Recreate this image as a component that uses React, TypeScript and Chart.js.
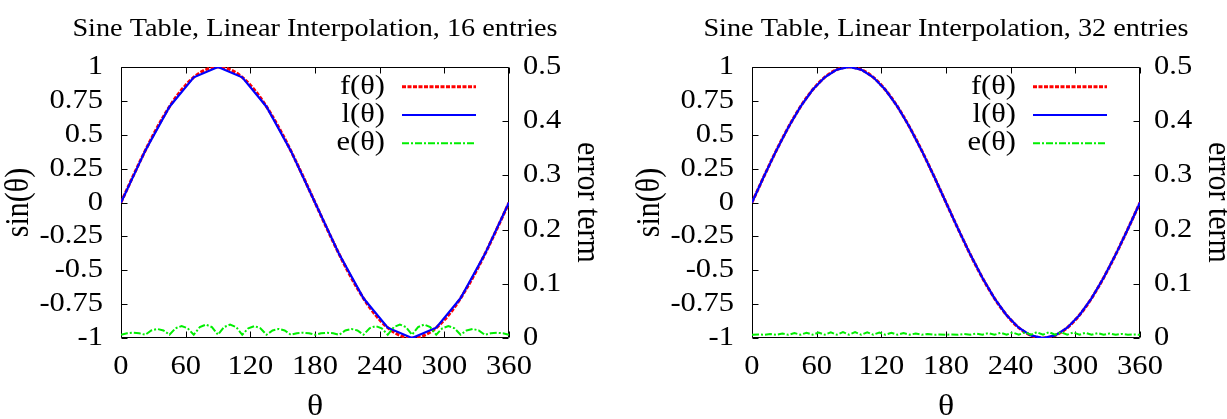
import React, { useEffect, useRef } from 'react';
import { Chart, registerables } from 'chart.js';

Chart.register(...registerables);

const FONT_FAMILY = '"Liberation Serif", "Times New Roman", Times, serif';
const TEXT_STRETCH = 1.13;

// ---- data ----
const thetaF = [0, 10, 20, 30, 40, 50, 60, 70, 80, 90, 100, 110, 120, 130, 140, 150, 160, 170, 180,
  190, 200, 210, 220, 230, 240, 250, 260, 270, 280, 290, 300, 310, 320, 330, 340, 350, 360];
const sinF = [0, 0.1736, 0.342, 0.5, 0.6428, 0.766, 0.866, 0.9397, 0.9848, 1, 0.9848, 0.9397, 0.866,
  0.766, 0.6428, 0.5, 0.342, 0.1736, 0, -0.1736, -0.342, -0.5, -0.6428, -0.766, -0.866, -0.9397,
  -0.9848, -1, -0.9848, -0.9397, -0.866, -0.766, -0.6428, -0.5, -0.342, -0.1736, 0];

const theta16 = [0, 22.5, 45, 67.5, 90, 112.5, 135, 157.5, 180, 202.5, 225, 247.5, 270, 292.5, 315, 337.5, 360];
const lin16 = [0, 0.3827, 0.7071, 0.9239, 1, 0.9239, 0.7071, 0.3827, 0, -0.3827, -0.7071, -0.9239, -1,
  -0.9239, -0.7071, -0.3827, 0];

const theta32 = [0, 11.25, 22.5, 33.75, 45, 56.25, 67.5, 78.75, 90, 101.25, 112.5, 123.75, 135, 146.25,
  157.5, 168.75, 180, 191.25, 202.5, 213.75, 225, 236.25, 247.5, 258.75, 270, 281.25, 292.5, 303.75,
  315, 326.25, 337.5, 348.75, 360];
const lin32 = [0, 0.1951, 0.3827, 0.5556, 0.7071, 0.8315, 0.9239, 0.9808, 1, 0.9808, 0.9239, 0.8315,
  0.7071, 0.5556, 0.3827, 0.1951, 0, -0.1951, -0.3827, -0.5556, -0.7071, -0.8315, -0.9239, -0.9808, -1,
  -0.9808, -0.9239, -0.8315, -0.7071, -0.5556, -0.3827, -0.1951, 0];

const thetaErr = [0, 5.625, 11.25, 16.875, 22.5, 28.125, 33.75, 39.375, 45, 50.625, 56.25, 61.875, 67.5,
  73.125, 78.75, 84.375, 90, 95.625, 101.25, 106.875, 112.5, 118.125, 123.75, 129.375, 135, 140.625,
  146.25, 151.875, 157.5, 163.125, 168.75, 174.375, 180, 185.625, 191.25, 196.875, 202.5, 208.125,
  213.75, 219.375, 225, 230.625, 236.25, 241.875, 247.5, 253.125, 258.75, 264.375, 270, 275.625, 281.25,
  286.875, 292.5, 298.125, 303.75, 309.375, 315, 320.625, 326.25, 331.875, 337.5, 343.125, 348.75,
  354.375, 360];

const err16 = [0.006,
  0.0088, 0.0097, 0.0088, 0.006, 0.014, 0.0167, 0.014, 0.006,
  0.018, 0.022, 0.018, 0.006, 0.0201, 0.0248, 0.0201, 0.006,
  0.0201, 0.0248, 0.0201, 0.006, 0.018, 0.022, 0.018, 0.006,
  0.014, 0.0167, 0.014, 0.006, 0.0088, 0.0097, 0.0088, 0.006,
  0.0088, 0.0097, 0.0088, 0.006, 0.014, 0.0167, 0.014, 0.006,
  0.018, 0.022, 0.018, 0.006, 0.0201, 0.0248, 0.0201, 0.006,
  0.0201, 0.0248, 0.0201, 0.006, 0.018, 0.022, 0.018, 0.006,
  0.014, 0.0167, 0.014, 0.006, 0.0088, 0.0097, 0.0088, 0.006];

const err32 = [0.006,
  0.0065, 0.006, 0.0074, 0.006, 0.0083, 0.006, 0.009, 0.006,
  0.0097, 0.006, 0.0102, 0.006, 0.0106, 0.006, 0.0108, 0.006,
  0.0108, 0.006, 0.0106, 0.006, 0.0102, 0.006, 0.0097, 0.006,
  0.009, 0.006, 0.0083, 0.006, 0.0074, 0.006, 0.0065, 0.006,
  0.0065, 0.006, 0.0074, 0.006, 0.0083, 0.006, 0.009, 0.006,
  0.0097, 0.006, 0.0102, 0.006, 0.0106, 0.006, 0.0108, 0.006,
  0.0108, 0.006, 0.0106, 0.006, 0.0102, 0.006, 0.0097, 0.006,
  0.009, 0.006, 0.0083, 0.006, 0.0074, 0.006, 0.0065, 0.006];

const xTickValues = [0, 60, 120, 180, 240, 300, 360];
const yTickValues = [-1, -0.75, -0.5, -0.25, 0, 0.25, 0.5, 0.75, 1];
const y2TickValues = [0, 0.1, 0.2, 0.3, 0.4, 0.5];
const legendLabels = ['f(θ)', 'l(θ)', 'e(θ)'];
const xTitle = 'θ';
const yTitle = 'sin(θ)';
const y2Title = 'error term';
const panelTitles = ['Sine Table, Linear Interpolation, 16 entries', 'Sine Table, Linear Interpolation, 32 entries'];

const pts = (xs: number[], ys: number[]) => xs.map((x, i) => ({ x, y: ys[i] }));

const font = (size: number, extra: any = {}) => ({ family: FONT_FAMILY, size, weight: 'normal', ...extra });

// widen every piece of text horizontally (device space) around its anchor point; no width clamping
function stretchText(ctx: any) {
  const orig = ctx.fillText;
  ctx.fillText = function (text: string, x: number, y: number) {
    const m: DOMMatrix = this.getTransform();
    const p = m.transformPoint(new DOMPoint(x, y));
    this.save();
    const s = new DOMMatrix().translate(p.x, p.y).scale(TEXT_STRETCH, 1).translate(-p.x, -p.y).multiply(m);
    this.setTransform(s);
    orig.call(this, text, x, y);
    this.restore();
  };
  return () => { delete ctx.fillText; };
}

const framePlugin = {
  id: 'gnuFrame',
  beforeDatasetsDraw(chart: any) {
    const { ctx, chartArea, scales } = chart;
    const l = Math.round(chartArea.left) + 0.5;
    const r = Math.round(chartArea.right) - 0.5;
    const t = Math.round(chartArea.top) + 0.5;
    const b = Math.round(chartArea.bottom) - 0.5;
    const TL = 6;
    ctx.save();
    ctx.strokeStyle = '#000';
    ctx.lineWidth = 1;
    ctx.setLineDash([]);
    ctx.beginPath();
    ctx.rect(l, t, r - l, b - t);
    xTickValues.forEach((v) => {
      const px = Math.round(scales.x.getPixelForValue(v)) + 0.5;
      ctx.moveTo(px, b); ctx.lineTo(px, b - TL);
      ctx.moveTo(px, t); ctx.lineTo(px, t + TL);
    });
    yTickValues.forEach((v) => {
      const py = Math.round(scales.y.getPixelForValue(v)) + 0.5;
      ctx.moveTo(l, py); ctx.lineTo(l + TL, py);
    });
    y2TickValues.forEach((v) => {
      const py = Math.round(scales.y2.getPixelForValue(v)) + 0.5;
      ctx.moveTo(r, py); ctx.lineTo(r - TL, py);
    });
    ctx.stroke();
    ctx.restore();
  },
};

const keyPlugin = {
  id: 'gnuKey',
  afterDraw(chart: any) {
    const { ctx, chartArea } = chart;
    ctx.save();
    chart.data.datasets.forEach((ds: any, i: number) => {
      const y = chartArea.top + 19.7 + i * 28.3;
      ctx.font = `normal 27px ${FONT_FAMILY}`;
      ctx.fillStyle = '#000';
      ctx.textAlign = 'right';
      ctx.textBaseline = 'middle';
      ctx.fillText(ds.label, chartArea.right - 124, y);
      ctx.strokeStyle = ds.borderColor;
      ctx.lineWidth = ds.borderWidth;
      ctx.setLineDash(ds.borderDash || []);
      ctx.beginPath();
      ctx.moveTo(chartArea.right - 107, y);
      ctx.lineTo(chartArea.right - 33, y);
      ctx.stroke();
    });
    ctx.restore();
  },
};

function makeConfig(title: string, linTheta: number[], linVals: number[], errVals: number[]): any {
  return {
    type: 'line',
    data: {
      datasets: [
        {
          label: legendLabels[0], data: pts(thetaF, sinF), borderColor: '#ff0000', borderWidth: 3,
          borderDash: [4, 1.5], pointRadius: 0, cubicInterpolationMode: 'monotone', yAxisID: 'y', order: 3, fill: false,
        },
        {
          label: legendLabels[1], data: pts(linTheta, linVals), borderColor: '#0000ff', borderWidth: 2.2,
          pointRadius: 0, tension: 0, yAxisID: 'y', order: 2, fill: false,
        },
        {
          label: legendLabels[2], data: pts(thetaErr, errVals), borderColor: '#00ee00', borderWidth: 2,
          borderDash: [7, 2, 2, 2], pointRadius: 0, tension: 0, yAxisID: 'y2', order: 1, fill: false,
        },
      ],
    },
    options: {
      animation: false,
      responsive: false,
      maintainAspectRatio: false,
      events: [],
      layout: { padding: 0 },
      plugins: {
        legend: { display: false },
        tooltip: { enabled: false },
        title: {
          display: true, text: title, color: '#000', font: font(25), fullSize: false,
          padding: { top: 14, bottom: 23 },
        },
      },
      scales: {
        x: {
          type: 'linear', position: 'bottom', min: 0, max: 360,
          afterBuildTicks: (s: any) => { s.ticks = xTickValues.map((v) => ({ value: v })); },
          afterFit: (s: any) => { s.height = 81; },
          ticks: { color: '#000', font: font(27), padding: 12.5, autoSkip: false, maxRotation: 0, callback: (v: any) => String(v) },
          grid: { display: false, drawTicks: false },
          border: { display: false },
          title: { display: true, text: xTitle, color: '#000', font: font(30), padding: { top: 0, bottom: -6.2 } },
        },
        y: {
          type: 'linear', position: 'left', min: -1, max: 1,
          afterBuildTicks: (s: any) => { s.ticks = yTickValues.map((v) => ({ value: v })); },
          afterFit: (s: any) => { s.width = 121; },
          ticks: { color: '#000', font: font(27), padding: 18, autoSkip: false, callback: (v: any) => String(v) },
          grid: { display: false, drawTicks: false },
          border: { display: false },
          title: { display: true, text: yTitle, color: '#000', font: font(30), padding: { top: 0.8, bottom: 0 } },
        },
        y2: {
          type: 'linear', position: 'right', min: 0, max: 0.5,
          afterBuildTicks: (s: any) => { s.ticks = y2TickValues.map((v) => ({ value: v })); },
          afterFit: (s: any) => { s.width = 104; },
          ticks: { color: '#000', font: font(27), padding: 14, autoSkip: false, callback: (v: any) => String(v) },
          grid: { display: false, drawTicks: false },
          border: { display: false },
          title: { display: true, text: y2Title, color: '#000', font: font(30), padding: { top: 7.8, bottom: 0 } },
        },
      },
    },
    plugins: [framePlugin, keyPlugin],
  };
}

function Panel({ left, title, linTheta, linVals, errVals }: any) {
  const ref = useRef<HTMLCanvasElement | null>(null);
  useEffect(() => {
    const canvas = ref.current;
    if (!canvas) return;
    const ctx = canvas.getContext('2d');
    const unpatch = stretchText(ctx);
    const chart = new Chart(canvas, makeConfig(title, linTheta, linVals, errVals));
    return () => { chart.destroy(); unpatch(); };
  }, []);
  return (
    <canvas
      ref={ref}
      width={613}
      height={419}
      style={{ position: 'absolute', left, top: 0, width: 613, height: 419, display: 'block' }}
    />
  );
}

export default function App() {
  return (
    <div style={{ position: 'fixed', left: 0, top: 0, width: 1227, height: 419, overflow: 'hidden', background: '#fff' }}>
      <Panel left={0} title={panelTitles[0]} linTheta={theta16} linVals={lin16} errVals={err16} />
      <Panel left={631} title={panelTitles[1]} linTheta={theta32} linVals={lin32} errVals={err32} />
    </div>
  );
}
